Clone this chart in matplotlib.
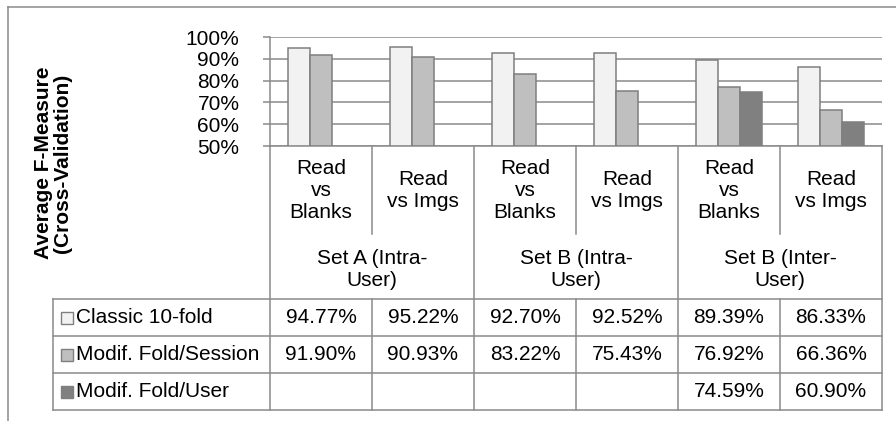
import matplotlib
matplotlib.use("Agg")
import matplotlib.pyplot as plt
from matplotlib.patches import Rectangle
from matplotlib.transforms import blended_transform_factory
import numpy as np

plt.rcParams['font.family'] = ['Liberation Sans', 'DejaVu Sans']

categories = ['Read\nvs\nBlanks', 'Read\nvs Imgs', 'Read\nvs\nBlanks', 'Read\nvs Imgs',
              'Read\nvs\nBlanks', 'Read\nvs Imgs']
groups = ['Set A (Intra-\nUser)', 'Set B (Intra-\nUser)', 'Set B (Inter-\nUser)']
series = ['Classic 10-fold', 'Modif. Fold/Session', 'Modif. Fold/User']
classic = [94.77, 95.22, 92.70, 92.52, 89.39, 86.33]
session = [91.90, 90.93, 83.22, 75.43, 76.92, 66.36]
user = [None, None, None, None, 74.59, 60.90]
yticks = [50, 60, 70, 80, 90, 100]

colors = ['#f2f2f2', '#bfbfbf', '#808080']
edge = '#7f7f7f'
line = '#8a8a8a'
W, H = 896, 421
FS = 15

fig = plt.figure(figsize=(W / 100, H / 100), dpi=100)
# plot area in pixels: x 270-882, y 37-146
ax = fig.add_axes([270 / W, 1 - 146 / H, (882 - 270) / W, (146 - 37) / H])

n = len(categories)
x = np.arange(n)
bw = 0.216
for k, vals in enumerate([classic, session, user]):
    xs = [xi + (k - 1) * bw for xi, v in zip(x, vals) if v is not None]
    hs = [v - 50 for v in vals if v is not None]
    ax.bar(xs, hs, bw, bottom=50, color=colors[k], edgecolor=edge, linewidth=1.1, zorder=3)

ax.set_xlim(-0.5, n - 0.5)
ax.set_ylim(50, 100)
ax.set_yticks(yticks)
ax.set_yticklabels([f'{t}%' for t in yticks], fontsize=FS)
ax.yaxis.grid(True, color=line, linewidth=1.1, zorder=0)
ax.set_axisbelow(True)
ax.set_xticks([])
for s in ['top', 'right', 'bottom']:
    ax.spines[s].set_visible(False)
ax.spines['left'].set_color(line)
ax.spines['left'].set_linewidth(1.1)
ax.tick_params(axis='y', length=5, color=line, width=1.1, pad=17)

# table below the plot: x in data units, y in figure pixels
tr = blended_transform_factory(ax.transData, fig.transFigure)


def fy(ypx):
    return 1 - ypx / H


def px2x(xpx):
    return -0.5 + (xpx - 270) / 102.0


def hline(y, x0, x1):
    ax.plot([x0, x1], [fy(y), fy(y)], color=line, lw=1.1, transform=tr, clip_on=False)


def vline(xv, y0, y1):
    ax.plot([xv, xv], [fy(y0), fy(y1)], color=line, lw=1.1, transform=tr, clip_on=False)


leftx = px2x(53)
hline(146, -0.5, n - 0.5)
for y in [299, 336, 373, 410]:
    hline(y, leftx, n - 0.5)
vline(leftx, 299, 410)
for b in [-0.5, 1.5, 3.5, n - 0.5]:
    vline(b, 146, 410)
for b in [0.5, 2.5, 4.5]:
    vline(b, 146, 234)
    vline(b, 299, 410)

for i, c in enumerate(categories):
    ax.text(i, fy(191), c, transform=tr, ha='center', va='center', fontsize=FS, linespacing=1.2)
for g, name in enumerate(groups):
    ax.text(2 * g + 0.5, fy(269), name, transform=tr, ha='center', va='center', fontsize=FS,
            linespacing=1.2)

row_y = [317.5, 354.5, 391.5]
for r, vals in enumerate([classic, session, user]):
    ax.add_patch(Rectangle((px2x(61), fy(row_y[r] + 6)), 12 / 102, 12 / H, transform=tr,
                           facecolor=colors[r], edgecolor=edge, lw=1.0, clip_on=False))
    ax.text(px2x(76), fy(row_y[r]), series[r], transform=tr, ha='left', va='center', fontsize=FS)
    for i, v in enumerate(vals):
        if v is not None:
            ax.text(i, fy(row_y[r]), f'{v:.2f}%', transform=tr, ha='center', va='center', fontsize=FS)

# outer chart border (top and left visible)
fig.add_artist(plt.Line2D([8 / W, 1], [fy(7), fy(7)], color=line, lw=1.1))
fig.add_artist(plt.Line2D([8 / W, 8 / W], [fy(7), 0], color=line, lw=1.1))

fig.text(53 / W, fy(163), 'Average F-Measure\n(Cross-Validation)', rotation=90, ha='center',
         va='center', fontsize=15, fontweight='bold', linespacing=1.0)

fig.savefig('out.png', dpi=100)
